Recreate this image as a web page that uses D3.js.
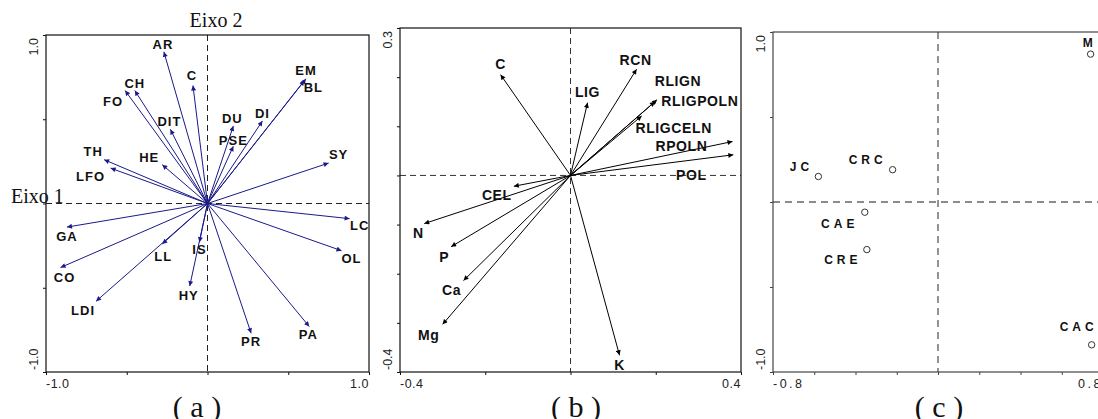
<!DOCTYPE html>
<html>
<head>
<meta charset="utf-8">
<script src="https://cdn.jsdelivr.net/npm/d3@7"></script>
<style>
  body { margin: 0; background: #fff; }
  .lbl { font-family: Arial, "Liberation Sans", sans-serif; font-weight: bold; fill: #111; }
  .tick-lbl { font-family: Arial, "Liberation Sans", sans-serif; font-size: 12.5px; fill: #222; }
  .serif { font-family: "Times New Roman", "Liberation Serif", serif; fill: #111; }
</style>
</head>
<body>
<svg id="chart" width="1098" height="419"></svg>
<script>
// Panel (a) - variable loadings
const varsA = ['AR', 'C', 'CH', 'FO', 'DIT', 'TH', 'LFO', 'HE', 'DU', 'PSE', 'DI', 'EM', 'BL', 'SY',
               'LC', 'OL', 'GA', 'CO', 'LL', 'IS', 'HY', 'LDI', 'PR', 'PA'];
const axis1A = [-0.27, -0.09, -0.45, -0.51, -0.23, -0.64, -0.60, -0.28, 0.16, 0.16, 0.34, 0.61, 0.60, 0.75,
                0.88, 0.83, -0.87, -0.91, -0.28, -0.05, -0.11, -0.69, 0.27, 0.63];
const axis2A = [0.90, 0.70, 0.67, 0.67, 0.44, 0.26, 0.21, 0.23, 0.46, 0.34, 0.49, 0.74, 0.73, 0.24,
                -0.09, -0.28, -0.14, -0.38, -0.24, -0.23, -0.49, -0.58, -0.77, -0.73];

// Panel (b) - nutrient vectors
const varsB = ['C', 'LIG', 'RCN', 'RLIGN', 'RLIGPOLN', 'RLIGCELN', 'RPOLN', 'POL', 'CEL', 'N', 'P', 'Ca', 'Mg', 'K'];
const axis1B = [-0.164, 0.040, 0.155, 0.203, 0.198, 0.167, 0.380, 0.382, -0.133, -0.343, -0.280, -0.251, -0.300, 0.115];
const axis2B = [0.205, 0.148, 0.216, 0.154, 0.150, 0.121, 0.069, 0.042, -0.022, -0.098, -0.145, -0.214, -0.303, -0.366];

// Panel (c) - sites
const sitesC = ['M', 'JC', 'CRC', 'CAE', 'CRE', 'CAC'];
const axis1C = [0.74, -0.58, -0.22, -0.355, -0.345, 0.745];
const axis2C = [0.87, 0.15, 0.19, -0.06, -0.28, -0.84];

// tick values
const ticksXA = [-1, -0.5, 0, 0.5, 1];
const ticksYA = [-1, -0.5, 0, 0.5, 1];
const ticksXB = [-0.4, -0.2, 0, 0.2, 0.4];
const ticksYB = [-0.4, -0.3, -0.2, -0.1, 0, 0.1, 0.2, 0.3];
const ticksXC = [-0.8, -0.6, -0.4, -0.2, 0, 0.2, 0.4, 0.6, 0.8];
const ticksYC = [-1, -0.5, 0, 0.5, 1];

// label placement (pixels from arrow tip / point)
const offA = {
  AR: [-1, -8], C: [-1, -10], CH: [0, -7], FO: [-12, 11], DIT: [-1, -8], TH: [-11, -8], LFO: [-20, 8],
  HE: [-13, -7], DU: [-1, -8], PSE: [0, -6], DI: [0, -8], EM: [0, -8], BL: [9, 7], SY: [10, -9],
  LC: [10, 7], OL: [10, 8], GA: [0, 9], CO: [4, 10], LL: [1, 12], IS: [0, 7], HY: [-1, 9],
  LDI: [-13, 9], PR: [0, 8], PA: [-1, 8]
};
const offB = {
  C: [0, -11], LIG: [0, -11], RCN: [-1, -9], RLIGN: [21, -19], RLIGPOLN: [45, -1], RLIGCELN: [32, 12],
  RPOLN: [-51, 4], POL: [-42, 20], CEL: [-17, 9], N: [-6, 9], P: [-7, 10], Ca: [-12, 9], Mg: [-14, 11], K: [0, 10]
};
const offC = { M: [-1, -11], JC: [-17, -10], CRC: [-25, -10], CAE: [-25, 11], CRE: [-24, 10], CAC: [-13, -18] };

const svg = d3.select('#chart');

function fmt(v) { return v.toFixed(1); }

function drawPanel(p) {
  const g = svg.append('g');
  const x = d3.scaleLinear().domain(p.xDomain).range([p.left, p.right]);
  const y = d3.scaleLinear().domain(p.yDomain).range([p.bottom, p.top]);

  // dashed zero lines
  g.append('line')
    .attr('x1', x(0)).attr('x2', x(0)).attr('y1', p.top).attr('y2', p.bottom)
    .attr('stroke', p.dashColor).attr('stroke-width', p.dashWidth).attr('stroke-dasharray', p.dash);
  g.append('line')
    .attr('x1', p.left).attr('x2', p.right).attr('y1', y(0)).attr('y2', y(0))
    .attr('stroke', p.dashColor).attr('stroke-width', p.dashWidth).attr('stroke-dasharray', p.dash);

  // axes (tick marks only)
  const ax = g.append('g').attr('transform', `translate(0,${p.bottom})`)
    .call(d3.axisBottom(x).tickValues(p.ticksX).tickSize(3).tickFormat(''));
  const ay = g.append('g').attr('transform', `translate(${p.left},0)`)
    .call(d3.axisLeft(y).tickValues(p.ticksY).tickSize(3).tickFormat(''));
  [ax, ay].forEach(a => {
    a.select('.domain').remove();
    a.selectAll('line').attr('stroke', p.frameColor);
  });

  // frame
  g.append('rect')
    .attr('x', p.left).attr('y', p.top)
    .attr('width', p.right - p.left).attr('height', p.bottom - p.top)
    .attr('fill', 'none').attr('stroke', p.frameColor).attr('stroke-width', 1.2);

  // end tick labels
  const xs = p.xDomain, ys = p.yDomain;
  g.append('text').attr('class', 'tick-lbl').attr('x', x(xs[0])).attr('y', p.bottom + 16)
    .style('letter-spacing', p.tickSpacing).attr('text-anchor', 'start').text(fmt(xs[0]));
  g.append('text').attr('class', 'tick-lbl').attr('x', x(xs[1])).attr('y', p.bottom + 16)
    .style('letter-spacing', p.tickSpacing).attr('text-anchor', 'end').text(fmt(xs[1]));
  g.append('text').attr('class', 'tick-lbl')
    .attr('transform', `translate(${p.left - 8},${y(ys[1]) + 3}) rotate(-90)`)
    .attr('text-anchor', 'end').text(fmt(ys[1]));
  g.append('text').attr('class', 'tick-lbl')
    .attr('transform', `translate(${p.left - 8},${y(ys[0]) - 2}) rotate(-90)`)
    .attr('text-anchor', 'start').text(fmt(ys[0]));

  // panel caption
  svg.append('text').attr('class', 'serif')
    .attr('x', p.captionX).attr('y', 417)
    .attr('text-anchor', 'middle').style('font-size', '30px')
    .text(p.caption);

  return { g, x, y };
}

function drawArrows(panel, names, xv, yv, offsets, color, fontSize, spacing, id) {
  const { g, x, y } = panel;
  svg.append('defs').append('marker')
    .attr('id', id)
    .attr('viewBox', '0 0 10 10')
    .attr('refX', 10).attr('refY', 5)
    .attr('markerWidth', 6).attr('markerHeight', 5)
    .attr('markerUnits', 'userSpaceOnUse')
    .attr('orient', 'auto')
    .append('path').attr('d', 'M0,0 L10,5 L0,10 z').attr('fill', color);

  const data = names.map((n, i) => ({ name: n, a1: xv[i], a2: yv[i] }));
  g.append('g').selectAll('line').data(data).enter().append('line')
    .attr('x1', x(0)).attr('y1', y(0))
    .attr('x2', d => x(d.a1)).attr('y2', d => y(d.a2))
    .attr('stroke', color).attr('stroke-width', 1)
    .attr('marker-end', `url(#${id})`);

  g.append('g').selectAll('text').data(data).enter().append('text')
    .attr('class', 'lbl')
    .attr('x', d => x(d.a1) + offsets[d.name][0])
    .attr('y', d => y(d.a2) + offsets[d.name][1])
    .attr('dy', '0.36em')
    .attr('text-anchor', 'middle')
    .style('font-size', fontSize)
    .style('letter-spacing', spacing)
    .text(d => d.name);
}

// Panel (a)
const pa = drawPanel({
  left: 46, right: 369, top: 35, bottom: 372,
  xDomain: [-1, 1], yDomain: [-1, 1], ticksX: ticksXA, ticksY: ticksYA,
  frameColor: '#111', dashColor: '#222', dashWidth: 1, dash: '6,4', tickSpacing: '0.5px',
  caption: '( a )', captionX: 197
});
drawArrows(pa, varsA, axis1A, axis2A, offA, '#1a1a8a', '13px', '1px', 'headA');
svg.append('text').attr('class', 'serif').attr('x', 216).attr('y', 27)
  .attr('text-anchor', 'middle').style('font-size', '20px').text('Eixo 2');
svg.append('text').attr('class', 'serif').attr('x', 11).attr('y', 203)
  .style('font-size', '20px').text('Eixo 1');

// Panel (b)
const pb = drawPanel({
  left: 400, right: 741, top: 28, bottom: 372,
  xDomain: [-0.4, 0.4], yDomain: [-0.4, 0.3], ticksX: ticksXB, ticksY: ticksYB,
  frameColor: '#111', dashColor: '#333', dashWidth: 1, dash: '6,4', tickSpacing: '0.5px',
  caption: '( b )', captionX: 576
});
drawArrows(pb, varsB, axis1B, axis2B, offB, '#000', '14px', '0.6px', 'headB');

// Panel (c)
const pc = drawPanel({
  left: 773, right: 1103, top: 32, bottom: 372,
  xDomain: [-0.8, 0.8], yDomain: [-1, 1], ticksX: ticksXC, ticksY: ticksYC,
  frameColor: '#444', dashColor: '#666', dashWidth: 1.4, dash: '7,5', tickSpacing: '2.5px',
  caption: '( c )', captionX: 939
});
const siteData = sitesC.map((n, i) => ({ name: n, a1: axis1C[i], a2: axis2C[i] }));
pc.g.append('g').selectAll('circle').data(siteData).enter().append('circle')
  .attr('cx', d => pc.x(d.a1)).attr('cy', d => pc.y(d.a2)).attr('r', 3.2)
  .attr('fill', '#fff').attr('stroke', '#333').attr('stroke-width', 1);
pc.g.append('g').selectAll('text').data(siteData).enter().append('text')
  .attr('class', 'lbl')
  .attr('x', d => pc.x(d.a1) + offC[d.name][0])
  .attr('y', d => pc.y(d.a2) + offC[d.name][1])
  .attr('dy', '0.36em').attr('text-anchor', 'middle')
  .style('font-size', '12px').style('letter-spacing', '4px')
  .text(d => d.name);
</script>
</body>
</html>
